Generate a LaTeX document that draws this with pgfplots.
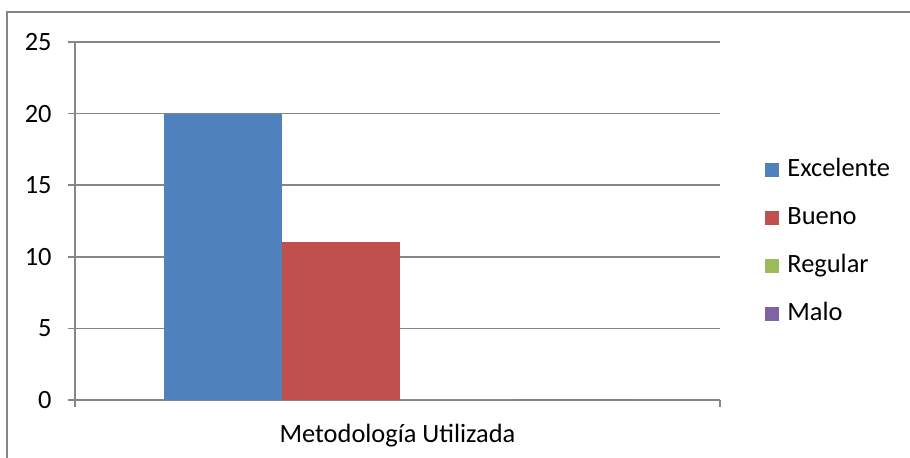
\documentclass[border=0pt]{standalone}
\usepackage{pgfplots}
\pgfplotsset{compat=1.18}
\usepackage{fontspec}
\setmainfont{Carlito}
\definecolor{gline}{HTML}{868686}
\definecolor{cblue}{HTML}{4F81BD}
\definecolor{cred}{HTML}{C0504D}
\definecolor{cgreen}{HTML}{9BBB59}
\definecolor{cpurple}{HTML}{8064A2}
\begin{document}
\begin{tikzpicture}[x=1pt,y=1pt]
\useasboundingbox (0,0) rectangle (455,229);
\draw[gline, line width=0.75pt] (3.5,-2) -- (3.5,223) -- (458,223);
\begin{axis}[
  at={(37.5pt,29pt)}, anchor=south west,
  scale only axis, width=322.5pt, height=179pt,
  xmin=-0.5039, xmax=0.4961, ymin=0, ymax=25,
  ytick={0,5,10,15,20,25},
  xtick={-0.5039,0.4961}, xticklabels={},
  axis x line=bottom, axis y line=left,
  axis line style={gline, line width=0.75pt, -},
  ymajorgrids, major grid style={gline, line width=0.75pt},
  tick style={gline, line width=0.75pt},
  tick align=outside, major tick length=3.5pt,
  /pgf/number format/assume math mode=true,
  tick label style={font=\fontsize{13.2}{15}\selectfont},
  yticklabel style={inner sep=0pt, xshift=-8pt},
  xlabel={Metodología Utilizada},
  xlabel style={font=\fontsize{13.2}{15}\selectfont, at={(axis description cs:0.5,0)}, anchor=base, yshift=-21.5pt},
  ybar=0pt, bar width=59pt,
  legend image code/.code={\fill[#1] (0pt,-3.5pt) rectangle (7pt,3.5pt);},
  legend style={draw=none, fill=none, at={(axis description cs:1.0698,0.44)}, anchor=west,
    inner sep=0pt, row sep=12pt, column sep=4pt,
    nodes={inner sep=0pt, text height=9pt, text depth=3pt, font=\fontsize{13.2}{15}\selectfont}},
  legend cell align=left,
]
\addplot[fill=cblue, draw=none] coordinates {(0,20)};
\addplot[fill=cred, draw=none] coordinates {(0,11)};
\addplot[fill=cgreen, draw=none] coordinates {(0,0)};
\addplot[fill=cpurple, draw=none] coordinates {(0,0)};
\legend{Excelente,Bueno,Regular,Malo}
\end{axis}
\end{tikzpicture}
\end{document}
